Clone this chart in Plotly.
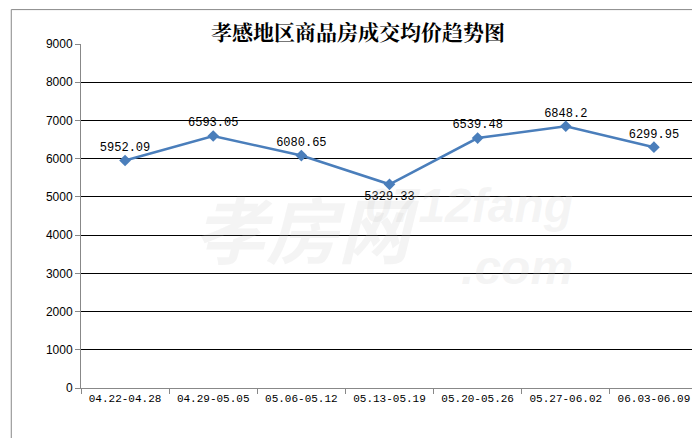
import plotly.graph_objects as go

categories = ["04.22-04.28", "04.29-05.05", "05.06-05.12", "05.13-05.19", "05.20-05.26", "05.27-06.02", "06.03-06.09"]
values = [5952.09, 6593.05, 6080.65, 5329.33, 6539.48, 6848.2, 6299.95]
labels = ["5952.09", "6593.05", "6080.65", "5329.33", "6539.48", "6848.2", "6299.95"]
positions = ["top center", "top center", "top center", "bottom center", "top center", "top center", "top center"]

fig = go.Figure()
fig.add_trace(go.Scatter(
    x=categories, y=values, mode="lines+markers+text",
    text=labels, textposition=positions,
    textfont=dict(family="Liberation Mono, monospace", size=12, color="#000"),
    line=dict(color="#4A7EBB", width=2.5),
    marker=dict(symbol="diamond", size=9, color="#4A7EBB"),
    cliponaxis=False,
))
fig.update_layout(
    width=700, height=438, margin=dict(l=73, r=10, t=36, b=58),
    paper_bgcolor="white", plot_bgcolor="white", showlegend=False,
    title=dict(text="<b>孝感地区商品房成交均价趋势图</b>", x=0.5, y=0.96, xanchor="center",
               font=dict(family="Noto Serif CJK SC, Noto Sans CJK SC", size=21, color="#000")),
    xaxis=dict(type="category", range=[-0.5, 6.5], showline=True, linecolor="#888", linewidth=1,
               ticks="outside", tickson="boundaries", ticklen=5, tickcolor="#888", tickangle=0,
               tickfont=dict(family="Liberation Mono, monospace", size=11, color="#000"),
               showgrid=False),
    yaxis=dict(range=[0, 9000], dtick=1000, showline=True, linecolor="#888", linewidth=1,
               ticks="outside", ticklen=5, tickcolor="#888", gridcolor="#000", gridwidth=1,
               tickfont=dict(family="Liberation Sans, Arial", size=12, color="#000"), zeroline=False),
    shapes=[dict(type="rect", xref="paper", yref="paper", x0=-0.113, x1=1.015, y0=-0.165, y1=1.1,
                 line=dict(color="#888", width=1))],
    annotations=[
        dict(text="<i><b>孝房网</b></i>", xref="paper", yref="paper", x=0.18, y=0.47, showarrow=False,
             font=dict(family="Noto Sans CJK SC", size=72, color="rgba(200,200,200,0.2)")),
        dict(text="<i><b>0712fang<br>.com</b></i>", xref="paper", yref="paper", x=0.8, y=0.44,
             showarrow=False, align="right",
             font=dict(family="Liberation Sans", size=48, color="rgba(200,200,200,0.2)")),
    ],
)
fig.write_html("out.html")
